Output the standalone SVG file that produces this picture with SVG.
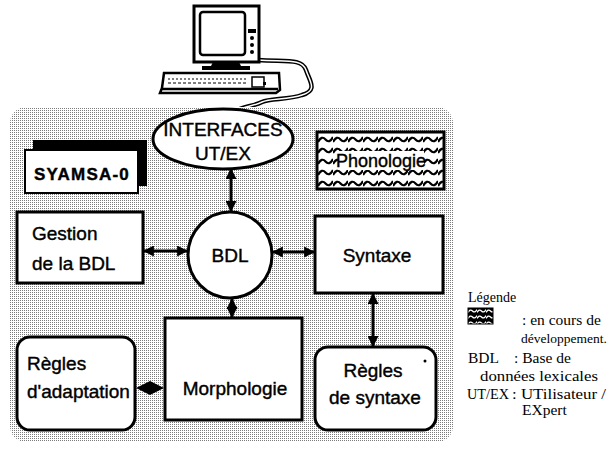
<svg xmlns="http://www.w3.org/2000/svg" width="613" height="450" viewBox="0 0 613 450">
  <defs>
    <!-- dithered grey for the system panel -->
    <pattern id="dots" width="2" height="2" patternUnits="userSpaceOnUse">
      <rect width="2" height="2" fill="#ffffff"/>
      <rect width="1" height="1" fill="#7a7a7a"/>
    </pattern>
    <!-- wavy hatching for modules in development -->
    <pattern id="waves" width="15" height="11" patternUnits="userSpaceOnUse" x="318" y="134">
      <rect width="15" height="11" fill="#ffffff"/>
      <path d="M0 8 Q3.75 1 7.5 5.5 Q11.25 10 15 3" fill="none" stroke="#000" stroke-width="2.2"/>
    </pattern>
    <pattern id="wavesInv" width="9" height="6" patternUnits="userSpaceOnUse" x="468" y="308">
      <rect width="9" height="6" fill="#000"/>
      <path d="M0 4.5 Q2.25 0.5 4.5 3 Q6.75 5.5 9 1.5" fill="none" stroke="#fff" stroke-width="1.3"/>
    </pattern>
    <marker id="head" viewBox="0 0 10 10" refX="9" refY="5" markerWidth="11" markerHeight="11" markerUnits="userSpaceOnUse" orient="auto-start-reverse">
      <path d="M0 0 L10 5 L0 10 Z" fill="#000"/>
    </marker>
    <style>
      .box { fill: #ffffff; stroke: #000; stroke-width: 3; }
      .lbl { font-family: "Liberation Sans", Arial, sans-serif; font-size: 19px; fill: #000; stroke: #000; stroke-width: 0.4; text-anchor: middle; }
      .leg { font-family: "Liberation Serif", "Times New Roman", serif; font-size: 15.5px; fill: #000; }
      .link { fill: none; stroke: #000; stroke-width: 3; marker-start: url(#head); marker-end: url(#head); }
    </style>
  </defs>

  <!-- workstation -->
  <g id="computer">
    <!-- cable -->
    <path d="M258 60 C285 62 302 58 306 70 C310 82 318 90 302 95 C288 100 270 98 262 102 C254 106 246 106 238 110" fill="none" stroke="#000" stroke-width="4.5"/>
    <path d="M258 60 C285 62 302 58 306 70 C310 82 318 90 302 95 C288 100 270 98 262 102 C254 106 246 106 238 110" fill="none" stroke="#fff" stroke-width="1.5"/>
    <!-- monitor -->
    <rect x="194" y="6" width="65" height="56" fill="#fff" stroke="#000" stroke-width="3"/>
    <rect x="200" y="12" width="45" height="43" rx="3" fill="#fff" stroke="#000" stroke-width="2.5"/>
    <rect x="248" y="29" width="8" height="4" fill="#000"/>
    <circle cx="252" cy="38" r="2" fill="#000"/>
    <circle cx="252" cy="45" r="2" fill="#000"/>
    <circle cx="252" cy="52" r="2" fill="#000"/>
    <!-- stand -->
    <path d="M213 62 L239 62 L241 66 L211 66 Z" fill="#000"/>
    <rect x="202" y="66" width="48" height="4" fill="#000"/>
    <!-- keyboard -->
    <path d="M164 73 L279 73 L280 90 L276 93 L160 93 L162 88 Z" fill="#fff" stroke="#000" stroke-width="2.5"/>
    <line x1="168" y1="79" x2="248" y2="79" stroke="#000" stroke-width="1" stroke-dasharray="2 2"/>
    <line x1="168" y1="83" x2="248" y2="83" stroke="#000" stroke-width="1" stroke-dasharray="3 2"/>
    <rect x="252" y="77" width="12" height="10" fill="#fff" stroke="#000" stroke-width="1.5"/>
    <rect x="263" y="82" width="3" height="3" fill="#000"/>
    <line x1="162" y1="89" x2="278" y2="89" stroke="#000" stroke-width="2.5"/>
  </g>

  <!-- system panel -->
  <rect id="panel" x="10" y="107" width="443" height="335" rx="16" fill="url(#dots)"/>

  <g id="syamsa">
    <rect x="33" y="140" width="114" height="46" fill="#000"/>
    <rect x="25" y="150" width="113" height="43" fill="#fff" stroke="#000" stroke-width="2"/>
    <text x="82" y="180" class="lbl" style="font-weight:bold;font-size:17px;letter-spacing:1.2px">SYAMSA-0</text>
  </g>

  <g id="interfaces">
    <ellipse cx="223" cy="139" rx="70" ry="30" class="box"/>
    <text x="223" y="136" class="lbl">INTERFACES</text>
    <text x="223" y="160" class="lbl">UT/EX</text>
  </g>

  <g id="phonologie">
    <rect x="317" y="132" width="127" height="57" fill="url(#waves)" stroke="#000" stroke-width="3"/>
    <rect x="338" y="151" width="86" height="19" fill="#fff"/>
    <text x="381" y="167" class="lbl" style="font-size:18px">Phonologie</text>
  </g>

  <g id="gestion">
    <rect x="17" y="212" width="126" height="71" class="box"/>
    <text x="32" y="240" class="lbl" style="text-anchor:start">Gestion</text>
    <text x="32" y="270" class="lbl" style="text-anchor:start">de la BDL</text>
  </g>

  <g id="bdl">
    <ellipse cx="230" cy="255" rx="42" ry="43" class="box"/>
    <text x="230" y="262" class="lbl">BDL</text>
  </g>

  <g id="syntaxe">
    <rect x="315" y="216" width="128" height="77" class="box"/>
    <text x="377" y="262" class="lbl">Syntaxe</text>
  </g>

  <g id="morphologie">
    <rect x="165" y="318" width="137" height="102" class="box"/>
    <text x="235" y="395" class="lbl">Morphologie</text>
  </g>

  <g id="regles-adaptation">
    <rect x="17" y="337" width="118" height="93" rx="13" class="box"/>
    <text x="27" y="370" class="lbl" style="text-anchor:start">Règles</text>
    <text x="27" y="398" class="lbl" style="text-anchor:start">d'adaptation</text>
  </g>

  <g id="regles-syntaxe">
    <rect x="315" y="347" width="121" height="83" rx="13" class="box"/>
    <text x="373" y="377" class="lbl">Règles</text>
    <text x="375" y="404" class="lbl">de syntaxe</text>
    <circle cx="425" cy="361" r="1.5" fill="#000"/>
  </g>

  <g id="connectors">
    <line x1="231" y1="169" x2="231" y2="211" class="link"/>
    <line x1="144" y1="251" x2="187" y2="251" class="link"/>
    <line x1="273" y1="252" x2="314" y2="252" class="link"/>
    <line x1="232" y1="299" x2="232" y2="317" class="link"/>
    <line x1="373" y1="294" x2="373" y2="346" class="link"/>
    <path d="M136 388 L150 381 L164 388 L150 395 Z" fill="#000"/>
  </g>

  <g id="legend">
    <text x="468" y="302" class="leg" style="font-size:14px">Légende</text>
    <rect x="468" y="308" width="25" height="16" fill="url(#wavesInv)" stroke="#000" stroke-width="1"/>
    <text x="522" y="325" class="leg">: en cours de</text>
    <text x="521" y="343" class="leg" style="font-size:13.5px">développement.</text>
    <text x="468" y="363" class="leg">BDL</text>
    <text x="514" y="363" class="leg">: Base de</text>
    <text x="480" y="381" class="leg" textLength="118" lengthAdjust="spacingAndGlyphs">données lexicales</text>
    <text x="467" y="399" class="leg" textLength="42" lengthAdjust="spacingAndGlyphs">UT/EX</text>
    <text x="512" y="399" class="leg" textLength="94" lengthAdjust="spacingAndGlyphs">: UTilisateur /</text>
    <text x="522" y="415" class="leg">EXpert</text>
  </g>
</svg>
